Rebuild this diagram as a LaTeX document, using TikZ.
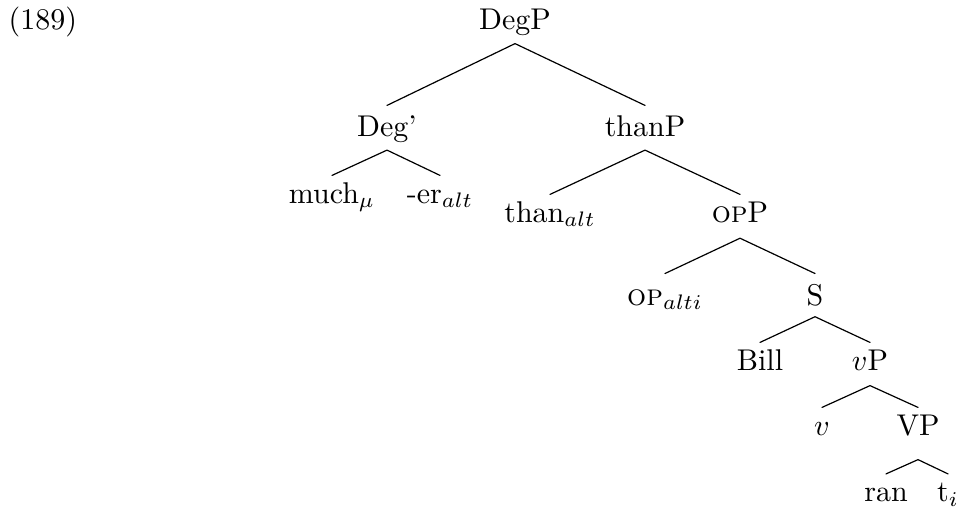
\documentclass[tikz,border=0pt]{standalone}
\usepackage{tikz}
\begin{document}
\begin{tikzpicture}[x=0.3333pt,y=-0.3333pt,line cap=round,line width=.4pt,
	lab/.style={anchor=base,text height=7pt,text depth=2.5pt,inner sep=2pt}]
	\useasboundingbox (0,0) rectangle (962,510);
	\node[anchor=base west,inner sep=0pt] (ex) at (8,29.5) {(189)};
	% upper part
	\node[lab] (DegP) at (515,29.5) {DegP};
	\node[lab] (Degbar) at (387,136) {Deg'};
	\node[lab] (thanP) at (645,136) {thanP};
	\node[lab] (much) at (332,203) {much$_\mu$};
	\node[lab] (er) at (440,203) {-er$_{alt}$};
	\node[lab] (than) at (550,222) {than$_{alt}$};
	\node[lab] (opP) at (740,222) {\textsc{op}P};
	% lower part
	\node[lab] (op) at (665,305) {\textsc{op}$_{alti}$};
	\node[lab] (S) at (815,305) {S};
	\node[lab] (Bill) at (760,370) {Bill};
	\node[lab] (vP) at (870,370) {$v$P};
	\node[lab] (v) at (822,435) {$v$};
	\node[lab] (VP) at (918,435) {VP};
	\node[lab] (ran) at (886,501.5) {ran};
	\node[lab] (t) at (948,501.5) {t$_i$};
	\draw (DegP.south)--([yshift=1pt]Degbar.north) (DegP.south)--([yshift=1pt]thanP.north);
	\draw (Degbar.south)--(much.north) (Degbar.south)--(er.north);
	\draw (thanP.south)--(than.north) (thanP.south)--(opP.north);
	\draw ([yshift=-.7pt]opP.south)--([yshift=1.3pt]op.north) ([yshift=-.7pt]opP.south)--([yshift=1.3pt]S.north);
	\draw ([yshift=.8pt]S.south)--(Bill.north) ([yshift=.8pt]S.south)--(vP.north);
	\draw ([yshift=-.5pt]vP.south)--(v.north) ([yshift=-.5pt]vP.south)--(VP.north);
	\draw ([yshift=-3.5pt]VP.south)--(ran.north) ([yshift=-3.5pt]VP.south)--(t.north);
\end{tikzpicture}
\end{document}
